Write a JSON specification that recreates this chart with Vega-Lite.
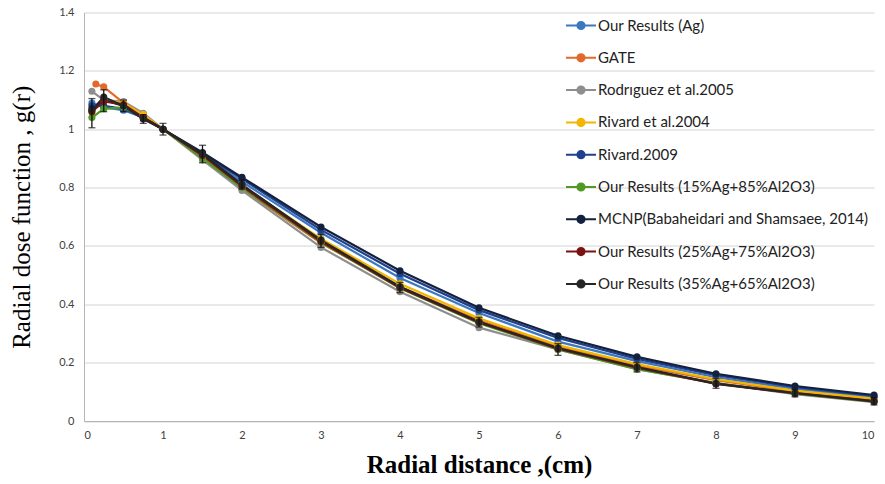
{
  "$schema": "https://vega.github.io/schema/vega-lite/v6.json",
  "autosize": "none",
  "width": 790,
  "height": 408.5,
  "padding": {"left": 84, "top": 12.5, "right": 11, "bottom": 63},
  "background": "white",
  "config": {
    "view": {"stroke": null},
    "axis": {
      "labelFont": "Lato",
      "labelFontSize": 11,
      "labelColor": "#404040",
      "titleFont": "Liberation Serif",
      "titleColor": "#000000",
      "titleFontSize": 25,
      "domainColor": "#b5b5b5",
      "gridColor": "#d4d4d4",
      "ticks": false
    }
  },
  "data": {
    "values": [
      {"s": "Our Results (Ag)", "r": 0.1, "g": 1.09},
      {"s": "Our Results (Ag)", "r": 0.25, "g": 1.075},
      {"s": "Our Results (Ag)", "r": 0.5, "g": 1.065},
      {"s": "Our Results (Ag)", "r": 0.75, "g": 1.04},
      {"s": "Our Results (Ag)", "r": 1, "g": 1.0},
      {"s": "Our Results (Ag)", "r": 1.5, "g": 0.91},
      {"s": "Our Results (Ag)", "r": 2, "g": 0.82},
      {"s": "Our Results (Ag)", "r": 3, "g": 0.645},
      {"s": "Our Results (Ag)", "r": 4, "g": 0.49},
      {"s": "Our Results (Ag)", "r": 5, "g": 0.37},
      {"s": "Our Results (Ag)", "r": 6, "g": 0.272},
      {"s": "Our Results (Ag)", "r": 7, "g": 0.205},
      {"s": "Our Results (Ag)", "r": 8, "g": 0.15},
      {"s": "Our Results (Ag)", "r": 9, "g": 0.11},
      {"s": "Our Results (Ag)", "r": 10, "g": 0.082},

      {"s": "GATE", "r": 0.15, "g": 1.155},
      {"s": "GATE", "r": 0.25, "g": 1.145},
      {"s": "GATE", "r": 0.5, "g": 1.09},
      {"s": "GATE", "r": 0.75, "g": 1.05},
      {"s": "GATE", "r": 1, "g": 1.0},
      {"s": "GATE", "r": 1.5, "g": 0.9},
      {"s": "GATE", "r": 2, "g": 0.795},
      {"s": "GATE", "r": 3, "g": 0.61},
      {"s": "GATE", "r": 4, "g": 0.46},
      {"s": "GATE", "r": 5, "g": 0.345},
      {"s": "GATE", "r": 6, "g": 0.255},
      {"s": "GATE", "r": 7, "g": 0.19},
      {"s": "GATE", "r": 8, "g": 0.14},
      {"s": "GATE", "r": 9, "g": 0.1},
      {"s": "GATE", "r": 10, "g": 0.074},

      {"s": "Rodrıguez et al.2005", "r": 0.1, "g": 1.13},
      {"s": "Rodrıguez et al.2005", "r": 0.25, "g": 1.1},
      {"s": "Rodrıguez et al.2005", "r": 0.5, "g": 1.095},
      {"s": "Rodrıguez et al.2005", "r": 0.75, "g": 1.055},
      {"s": "Rodrıguez et al.2005", "r": 1, "g": 1.0},
      {"s": "Rodrıguez et al.2005", "r": 1.5, "g": 0.895},
      {"s": "Rodrıguez et al.2005", "r": 2, "g": 0.79},
      {"s": "Rodrıguez et al.2005", "r": 3, "g": 0.595},
      {"s": "Rodrıguez et al.2005", "r": 4, "g": 0.443},
      {"s": "Rodrıguez et al.2005", "r": 5, "g": 0.32},
      {"s": "Rodrıguez et al.2005", "r": 6, "g": 0.245},
      {"s": "Rodrıguez et al.2005", "r": 7, "g": 0.178},
      {"s": "Rodrıguez et al.2005", "r": 8, "g": 0.13},
      {"s": "Rodrıguez et al.2005", "r": 9, "g": 0.092},
      {"s": "Rodrıguez et al.2005", "r": 10, "g": 0.065},

      {"s": "Rivard et al.2004", "r": 0.1, "g": 1.06},
      {"s": "Rivard et al.2004", "r": 0.25, "g": 1.1},
      {"s": "Rivard et al.2004", "r": 0.5, "g": 1.09},
      {"s": "Rivard et al.2004", "r": 0.75, "g": 1.05},
      {"s": "Rivard et al.2004", "r": 1, "g": 1.0},
      {"s": "Rivard et al.2004", "r": 1.5, "g": 0.905},
      {"s": "Rivard et al.2004", "r": 2, "g": 0.805},
      {"s": "Rivard et al.2004", "r": 3, "g": 0.625},
      {"s": "Rivard et al.2004", "r": 4, "g": 0.47},
      {"s": "Rivard et al.2004", "r": 5, "g": 0.352},
      {"s": "Rivard et al.2004", "r": 6, "g": 0.26},
      {"s": "Rivard et al.2004", "r": 7, "g": 0.195},
      {"s": "Rivard et al.2004", "r": 8, "g": 0.143},
      {"s": "Rivard et al.2004", "r": 9, "g": 0.104},
      {"s": "Rivard et al.2004", "r": 10, "g": 0.077},

      {"s": "Rivard.2009", "r": 0.1, "g": 1.08},
      {"s": "Rivard.2009", "r": 0.25, "g": 1.08},
      {"s": "Rivard.2009", "r": 0.5, "g": 1.07},
      {"s": "Rivard.2009", "r": 0.75, "g": 1.04},
      {"s": "Rivard.2009", "r": 1, "g": 1.0},
      {"s": "Rivard.2009", "r": 1.5, "g": 0.915},
      {"s": "Rivard.2009", "r": 2, "g": 0.83},
      {"s": "Rivard.2009", "r": 3, "g": 0.655},
      {"s": "Rivard.2009", "r": 4, "g": 0.505},
      {"s": "Rivard.2009", "r": 5, "g": 0.38},
      {"s": "Rivard.2009", "r": 6, "g": 0.285},
      {"s": "Rivard.2009", "r": 7, "g": 0.213},
      {"s": "Rivard.2009", "r": 8, "g": 0.157},
      {"s": "Rivard.2009", "r": 9, "g": 0.116},
      {"s": "Rivard.2009", "r": 10, "g": 0.086},

      {"s": "Our Results (15%Ag+85%Al2O3)", "r": 0.1, "g": 1.04},
      {"s": "Our Results (15%Ag+85%Al2O3)", "r": 0.25, "g": 1.07},
      {"s": "Our Results (15%Ag+85%Al2O3)", "r": 0.5, "g": 1.075},
      {"s": "Our Results (15%Ag+85%Al2O3)", "r": 0.75, "g": 1.04},
      {"s": "Our Results (15%Ag+85%Al2O3)", "r": 1, "g": 1.0},
      {"s": "Our Results (15%Ag+85%Al2O3)", "r": 1.5, "g": 0.9},
      {"s": "Our Results (15%Ag+85%Al2O3)", "r": 2, "g": 0.8},
      {"s": "Our Results (15%Ag+85%Al2O3)", "r": 3, "g": 0.612},
      {"s": "Our Results (15%Ag+85%Al2O3)", "r": 4, "g": 0.455},
      {"s": "Our Results (15%Ag+85%Al2O3)", "r": 5, "g": 0.335},
      {"s": "Our Results (15%Ag+85%Al2O3)", "r": 6, "g": 0.245},
      {"s": "Our Results (15%Ag+85%Al2O3)", "r": 7, "g": 0.178},
      {"s": "Our Results (15%Ag+85%Al2O3)", "r": 8, "g": 0.13},
      {"s": "Our Results (15%Ag+85%Al2O3)", "r": 9, "g": 0.094},
      {"s": "Our Results (15%Ag+85%Al2O3)", "r": 10, "g": 0.066},

      {"s": "MCNP(Babaheidari and Shamsaee, 2014)", "r": 0.1, "g": 1.07},
      {"s": "MCNP(Babaheidari and Shamsaee, 2014)", "r": 0.25, "g": 1.1},
      {"s": "MCNP(Babaheidari and Shamsaee, 2014)", "r": 0.5, "g": 1.08},
      {"s": "MCNP(Babaheidari and Shamsaee, 2014)", "r": 0.75, "g": 1.04},
      {"s": "MCNP(Babaheidari and Shamsaee, 2014)", "r": 1, "g": 1.0},
      {"s": "MCNP(Babaheidari and Shamsaee, 2014)", "r": 1.5, "g": 0.92},
      {"s": "MCNP(Babaheidari and Shamsaee, 2014)", "r": 2, "g": 0.835},
      {"s": "MCNP(Babaheidari and Shamsaee, 2014)", "r": 3, "g": 0.665},
      {"s": "MCNP(Babaheidari and Shamsaee, 2014)", "r": 4, "g": 0.515},
      {"s": "MCNP(Babaheidari and Shamsaee, 2014)", "r": 5, "g": 0.388},
      {"s": "MCNP(Babaheidari and Shamsaee, 2014)", "r": 6, "g": 0.292},
      {"s": "MCNP(Babaheidari and Shamsaee, 2014)", "r": 7, "g": 0.22},
      {"s": "MCNP(Babaheidari and Shamsaee, 2014)", "r": 8, "g": 0.162},
      {"s": "MCNP(Babaheidari and Shamsaee, 2014)", "r": 9, "g": 0.12},
      {"s": "MCNP(Babaheidari and Shamsaee, 2014)", "r": 10, "g": 0.089},

      {"s": "Our Results (25%Ag+75%Al2O3)", "r": 0.1, "g": 1.06},
      {"s": "Our Results (25%Ag+75%Al2O3)", "r": 0.25, "g": 1.095},
      {"s": "Our Results (25%Ag+75%Al2O3)", "r": 0.5, "g": 1.085},
      {"s": "Our Results (25%Ag+75%Al2O3)", "r": 0.75, "g": 1.04},
      {"s": "Our Results (25%Ag+75%Al2O3)", "r": 1, "g": 1.0},
      {"s": "Our Results (25%Ag+75%Al2O3)", "r": 1.5, "g": 0.91},
      {"s": "Our Results (25%Ag+75%Al2O3)", "r": 2, "g": 0.805},
      {"s": "Our Results (25%Ag+75%Al2O3)", "r": 3, "g": 0.615},
      {"s": "Our Results (25%Ag+75%Al2O3)", "r": 4, "g": 0.457},
      {"s": "Our Results (25%Ag+75%Al2O3)", "r": 5, "g": 0.338},
      {"s": "Our Results (25%Ag+75%Al2O3)", "r": 6, "g": 0.248},
      {"s": "Our Results (25%Ag+75%Al2O3)", "r": 7, "g": 0.183},
      {"s": "Our Results (25%Ag+75%Al2O3)", "r": 8, "g": 0.127},
      {"s": "Our Results (25%Ag+75%Al2O3)", "r": 9, "g": 0.095},
      {"s": "Our Results (25%Ag+75%Al2O3)", "r": 10, "g": 0.067},

      {"s": "Our Results (35%Ag+65%Al2O3)", "r": 0.1, "g": 1.065, "lo": 1.005, "hi": 1.105},
      {"s": "Our Results (35%Ag+65%Al2O3)", "r": 0.25, "g": 1.11, "lo": 1.06, "hi": 1.135},
      {"s": "Our Results (35%Ag+65%Al2O3)", "r": 0.5, "g": 1.08, "lo": 1.06, "hi": 1.1},
      {"s": "Our Results (35%Ag+65%Al2O3)", "r": 0.75, "g": 1.035, "lo": 1.02, "hi": 1.05},
      {"s": "Our Results (35%Ag+65%Al2O3)", "r": 1, "g": 1.0, "lo": 0.98, "hi": 1.02},
      {"s": "Our Results (35%Ag+65%Al2O3)", "r": 1.5, "g": 0.915, "lo": 0.885, "hi": 0.945},
      {"s": "Our Results (35%Ag+65%Al2O3)", "r": 2, "g": 0.81, "lo": 0.795, "hi": 0.825},
      {"s": "Our Results (35%Ag+65%Al2O3)", "r": 3, "g": 0.62, "lo": 0.595, "hi": 0.64},
      {"s": "Our Results (35%Ag+65%Al2O3)", "r": 4, "g": 0.46, "lo": 0.44, "hi": 0.475},
      {"s": "Our Results (35%Ag+65%Al2O3)", "r": 5, "g": 0.34, "lo": 0.322, "hi": 0.355},
      {"s": "Our Results (35%Ag+65%Al2O3)", "r": 6, "g": 0.25, "lo": 0.225, "hi": 0.265},
      {"s": "Our Results (35%Ag+65%Al2O3)", "r": 7, "g": 0.185, "lo": 0.168, "hi": 0.2},
      {"s": "Our Results (35%Ag+65%Al2O3)", "r": 8, "g": 0.128, "lo": 0.112, "hi": 0.145},
      {"s": "Our Results (35%Ag+65%Al2O3)", "r": 9, "g": 0.096, "lo": 0.083, "hi": 0.108},
      {"s": "Our Results (35%Ag+65%Al2O3)", "r": 10, "g": 0.068, "lo": 0.055, "hi": 0.08}
    ]
  },
  "encoding": {
    "x": {
      "field": "r",
      "type": "quantitative",
      "scale": {"domain": [0, 10], "nice": false},
      "axis": {
        "title": "Radial distance ,(cm)",
        "titleFontWeight": "bold",
        "titlePadding": 12,
        "values": [0, 1, 2, 3, 4, 5, 6, 7, 8, 9, 10],
        "format": "d",
        "grid": false,
        "labelPadding": 8
      }
    }
  },
  "layer": [
    {
      "mark": {"type": "line", "strokeWidth": 2.2},
      "encoding": {
        "y": {
          "field": "g",
          "type": "quantitative",
          "title": "Radial dose function , g(r)",
          "scale": {"domain": [0, 1.4], "nice": false},
          "axis": {
            "titleFontWeight": "normal",
            "titlePadding": 24,
            "values": [0, 0.2, 0.4, 0.6, 0.8, 1, 1.2, 1.4],
            "format": ".1~f",
            "labelPadding": 10
          }
        },
        "color": {
          "field": "s",
          "type": "nominal",
          "scale": {
            "domain": [
              "Our Results (Ag)",
              "GATE",
              "Rodrıguez et al.2005",
              "Rivard et al.2004",
              "Rivard.2009",
              "Our Results (15%Ag+85%Al2O3)",
              "MCNP(Babaheidari and Shamsaee, 2014)",
              "Our Results (25%Ag+75%Al2O3)",
              "Our Results (35%Ag+65%Al2O3)"
            ],
            "range": ["#3b78c0", "#e0692b", "#8e8e8e", "#f2b600", "#1f3f8f", "#4e9a22", "#14213d", "#7a1414", "#262626"]
          },
          "legend": {
            "title": null,
            "orient": "none",
            "legendX": 481,
            "legendY": -3,
            "padding": 0,
            "symbolType": "M-1,0L1,0M-0.24,0a0.24,0.24 0 1,0 0.48,0a0.24,0.24 0 1,0 -0.48,0",
            "symbolSize": 900,
            "symbolStrokeWidth": 2,
            "labelFont": "Lato",
            "labelFontSize": 15,
            "labelColor": "#222222",
            "labelOffset": 1,
            "labelLimit": 400,
            "rowPadding": 8.3,
            "encode": {
              "symbols": {
                "update": {
                  "stroke": {"scale": "color", "field": "value"},
                  "fill": {"scale": "color", "field": "value"},
                  "opacity": {"value": 1}
                }
              }
            }
          }
        }
      }
    },
    {
      "mark": {"type": "point", "filled": true, "size": 50, "opacity": 1},
      "encoding": {
        "y": {"field": "g", "type": "quantitative", "title": "Radial dose function , g(r)"},
        "color": {"field": "s", "type": "nominal"}
      }
    },
    {
      "transform": [{"filter": "isValid(datum.lo)"}],
      "mark": {"type": "errorbar", "ticks": {"size": 7}, "color": "#111111", "thickness": 1.3},
      "encoding": {
        "y": {"field": "lo", "type": "quantitative", "title": "Radial dose function , g(r)"},
        "y2": {"field": "hi"}
      }
    }
  ]
}
